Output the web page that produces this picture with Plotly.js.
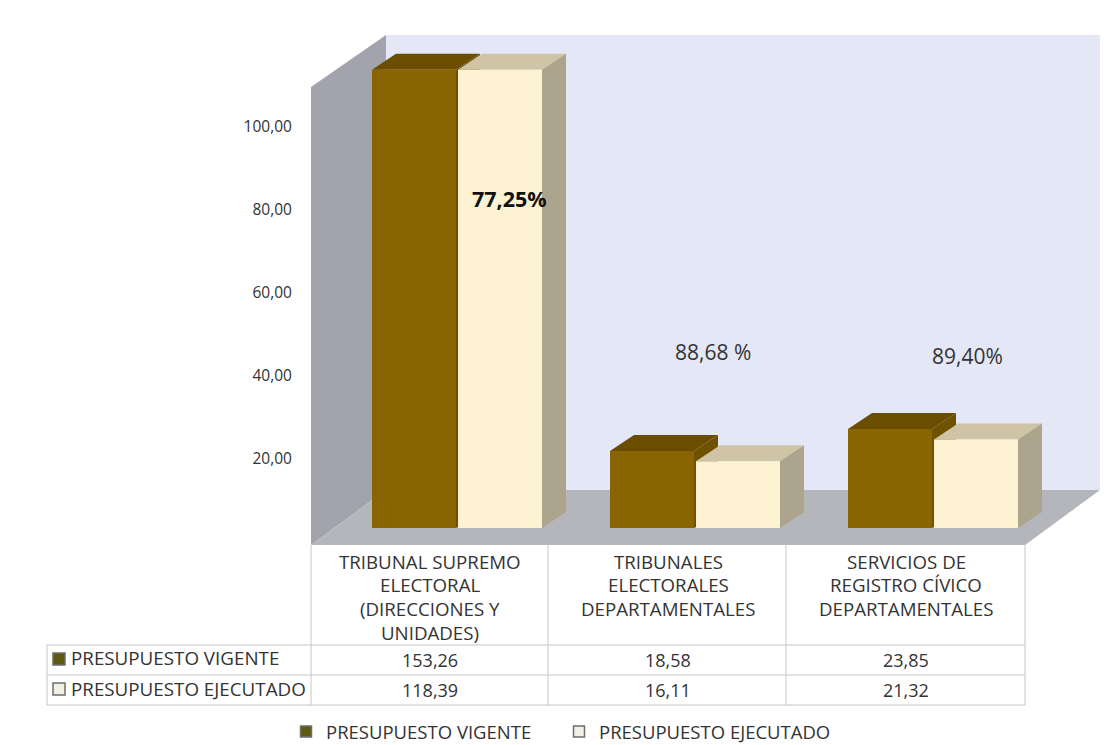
<!DOCTYPE html>
<html>
<head>
<meta charset="utf-8">
<script src="https://cdn.plot.ly/plotly-3.0.1.min.js"></script>
<style>html,body{margin:0;padding:0;background:#fff}#chart{width:1112px;height:745px}</style>
</head>
<body>
<div id="chart"></div>
<script>
const categoryLines = [
  ["TRIBUNAL SUPREMO", "ELECTORAL", "(DIRECCIONES Y", "UNIDADES)"],
  ["TRIBUNALES", "ELECTORALES", "DEPARTAMENTALES"],
  ["SERVICIOS DE", "REGISTRO CÍVICO", "DEPARTAMENTALES"]
];
const vigente = [153.26, 18.58, 23.85];
const ejecutado = [118.39, 16.11, 21.32];
const seriesNames = ["PRESUPUESTO VIGENTE", "PRESUPUESTO EJECUTADO"];
const yTicks = [20, 40, 60, 80, 100];
const percentLabels = ["77,25%", "88,68 %", "89,40%"];

const FONT = "'Open Sans', Lato, sans-serif";
const L = 311, R = 1100, T = 35, B = 545, W = 1112, H = 745;
const PXU = 4.15, COL = 238, Y0PX = 528;
const YCAP = 110.4;
const xr = [-0.5, -0.5 + (R - L) / COL];
const yr = [-(B - Y0PX) / PXU, (Y0PX - T) / PXU];
const px = x => (x - L) / (R - L), py = y => (B - y) / (B - T);
const poly = pts => "M" + pts.map(p => px(p[0]) + "," + py(p[1])).join("L") + "Z";
const fmt = v => v.toFixed(2).replace(".", ",");

const barW = 84 / COL, offs = [-58 / COL, 28 / COL];
const dx = 24 / COL, dy = 16 / PXU;
const colors = [
  {front: "#8a6400", top: "#6b4d00", side: "#6f5200"},
  {front: "#fdf3d3", top: "#cfc5a6", side: "#aca48d"}
];
const idx = [0, 1, 2];
const traces = [];
[vigente, ejecutado].forEach((vals, s) => {
  const capped = vals.map(v => Math.min(v, YCAP));
  const c = colors[s];
  capped.forEach((v, i) => {
    const x0 = i + offs[s], x1 = x0 + barW;
    traces.push({type: "scatter", mode: "lines", fill: "toself", fillcolor: c.top, line: {width: 0},
      x: [x0, x1, x1 + dx, x0 + dx, x0], y: [v, v, v + dy, v + dy, v],
      showlegend: false, hoverinfo: "skip", zorder: s * 2 + 1});
    traces.push({type: "scatter", mode: "lines", fill: "toself", fillcolor: c.side, line: {width: 0},
      x: [x1, x1 + dx, x1 + dx, x1, x1], y: [0, dy, v + dy, v, 0],
      showlegend: false, hoverinfo: "skip", zorder: s * 2 + 1});
  });
  traces.push({type: "bar", x: idx, y: capped, customdata: vals, name: seriesNames[s],
    width: barW, offset: offs[s], marker: {color: c.front, line: {width: 0}},
    showlegend: false, zorder: s * 2 + 2});
  traces.push({type: "scatter", mode: "markers", x: [null], y: [null], name: seriesNames[s],
    marker: {symbol: "square", size: 11, color: s ? "#f2efe4" : "#5f5a10", line: {color: "#6e6e6e", width: 1.5}},
    showlegend: true, hoverinfo: "skip"});
});

const shapes = [
  {type: "path", xref: "paper", yref: "paper", path: poly([[386, 35], [1100, 35], [1100, 490], [386, 490]]), fillcolor: "#e4e7f5", line: {width: 0}, layer: "below"},
  {type: "path", xref: "paper", yref: "paper", path: poly([[311, 87], [386, 35], [386, 490], [311, 545]]), fillcolor: "#a3a3ae", line: {width: 0}, layer: "below"},
  {type: "path", xref: "paper", yref: "paper", path: poly([[311, 545], [386, 490], [1100, 490], [1025, 545]]), fillcolor: "#b5b6bc", line: {width: 0}, layer: "below"}
];
const gline = (a, b, c, d) => ({type: "line", xref: "paper", yref: "paper", x0: px(a), y0: py(b), x1: px(c), y1: py(d), line: {color: "#c6c6c6", width: 1}});
[311, 548, 786, 1025].forEach(x => shapes.push(gline(x, 545, x, 705)));
shapes.push(gline(47, 645, 47, 705));
[645, 675, 705].forEach(y => shapes.push(gline(47, y, 1025, y)));
[["#5f5a10", 659], ["#f2efe4", 689]].forEach(a => shapes.push({
  type: "rect", xref: "paper", yref: "paper",
  x0: px(53), x1: px(65), y0: py(a[1] - 6), y1: py(a[1] + 6),
  fillcolor: a[0], line: {color: "#6e6e6e", width: 1.5}}));

const annotations = [];
const note = (text, x, y, size, opt) => annotations.push(Object.assign({
  text, xref: "paper", yref: "paper", x: px(x), y: py(y), xanchor: "center", yanchor: "middle",
  showarrow: false, font: {family: FONT, size, color: "#333"}}, opt || {}));
const colCentre = i => L + COL * (i + 0.5);
categoryLines.forEach((lines, i) => lines.forEach((t, k) => note(t, colCentre(i), 561 + 23.7 * k, 18.7)));
[vigente, ejecutado].forEach((vals, s) => {
  note(seriesNames[s], 69, s ? 689 : 658, 18.8, {xanchor: "left"});
  vals.forEach((v, i) => note(fmt(v), colCentre(i), s ? 690 : 660, 18));
});
[[509, 198, 21.5, "#111"], [713, 352, 21, "#333"], [967, 356, 21, "#333"]].forEach((a, i) =>
  note(i === 0 ? "<b>" + percentLabels[i] + "</b>" : percentLabels[i], a[0], a[1], a[2], {font: {family: FONT, size: a[2], color: a[3]}}));

const layout = {
  width: W, height: H, autosize: false,
  margin: {l: L, r: W - R, t: T, b: H - B, pad: 0, autoexpand: false},
  paper_bgcolor: "#fff", plot_bgcolor: "rgba(0,0,0,0)",
  font: {family: FONT, color: "#333"},
  barmode: "overlay",
  xaxis: {range: xr, showgrid: false, zeroline: false, showline: false, tickvals: [], fixedrange: true},
  yaxis: {range: yr, showgrid: false, zeroline: false, showline: false, fixedrange: true,
    tickvals: yTicks, ticktext: yTicks.map(fmt), ticklen: 15, tickcolor: "rgba(0,0,0,0)",
    ticklabelshift: 14, tickfont: {family: FONT, size: 15.5, color: "#333"}},
  legend: {orientation: "h", x: px(286), y: py(713), xanchor: "left", yanchor: "top",
    font: {family: FONT, size: 18.5, color: "#333"}, itemwidth: 30,
    entrywidth: 228, entrywidthmode: "pixels", bgcolor: "rgba(0,0,0,0)"},
  shapes, annotations
};
Plotly.newPlot("chart", traces, layout, {displayModeBar: false, staticPlot: true});
</script>
</body>
</html>
